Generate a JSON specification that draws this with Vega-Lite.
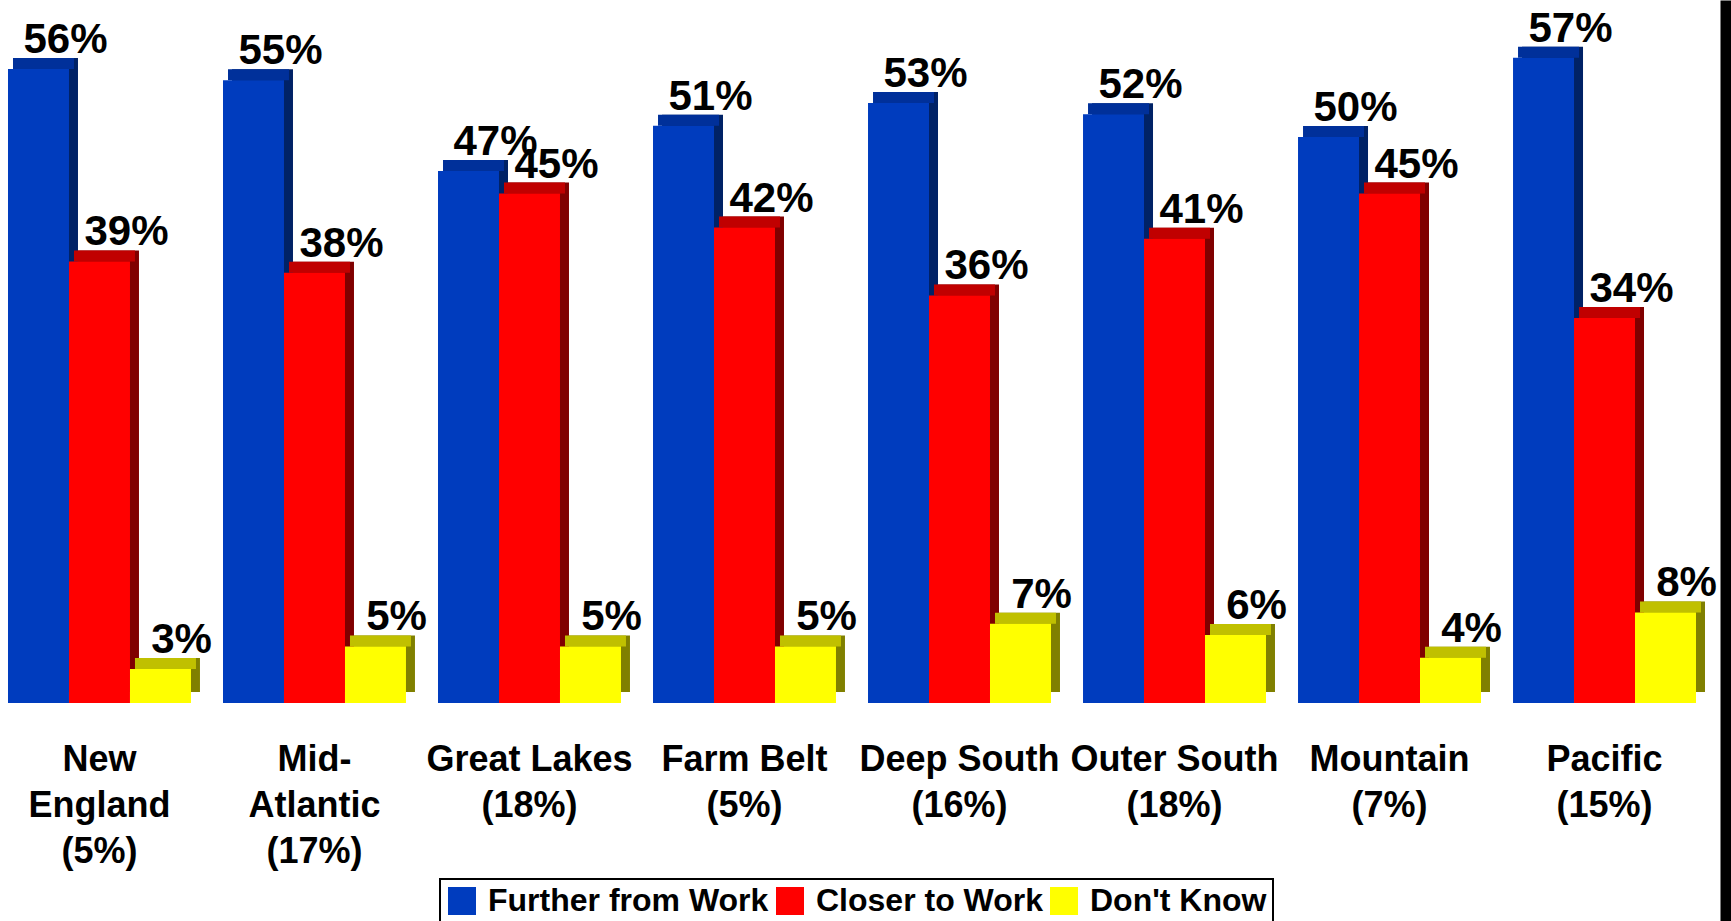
{
  "$schema": "https://vega.github.io/schema/vega-lite/v6.json",
  "width": 1731,
  "height": 921,
  "autosize": {"type": "none"},
  "padding": 0,
  "background": "white",
  "config": {"view": {"stroke": null}, "font": "Liberation Sans", "legend": {"strokeWidth": 2}},
  "data": {
    "values": [
      {"region": "New|England|(5%)", "series": "Further from Work", "value": 0.56},
      {"region": "New|England|(5%)", "series": "Closer to Work", "value": 0.39},
      {"region": "New|England|(5%)", "series": "Don't Know", "value": 0.03},
      {"region": "Mid-|Atlantic|(17%)", "series": "Further from Work", "value": 0.55},
      {"region": "Mid-|Atlantic|(17%)", "series": "Closer to Work", "value": 0.38},
      {"region": "Mid-|Atlantic|(17%)", "series": "Don't Know", "value": 0.05},
      {"region": "Great Lakes|(18%)", "series": "Further from Work", "value": 0.47},
      {"region": "Great Lakes|(18%)", "series": "Closer to Work", "value": 0.45},
      {"region": "Great Lakes|(18%)", "series": "Don't Know", "value": 0.05},
      {"region": "Farm Belt|(5%)", "series": "Further from Work", "value": 0.51},
      {"region": "Farm Belt|(5%)", "series": "Closer to Work", "value": 0.42},
      {"region": "Farm Belt|(5%)", "series": "Don't Know", "value": 0.05},
      {"region": "Deep South|(16%)", "series": "Further from Work", "value": 0.53},
      {"region": "Deep South|(16%)", "series": "Closer to Work", "value": 0.36},
      {"region": "Deep South|(16%)", "series": "Don't Know", "value": 0.07},
      {"region": "Outer South|(18%)", "series": "Further from Work", "value": 0.52},
      {"region": "Outer South|(18%)", "series": "Closer to Work", "value": 0.41},
      {"region": "Outer South|(18%)", "series": "Don't Know", "value": 0.06},
      {"region": "Mountain|(7%)", "series": "Further from Work", "value": 0.50},
      {"region": "Mountain|(7%)", "series": "Closer to Work", "value": 0.45},
      {"region": "Mountain|(7%)", "series": "Don't Know", "value": 0.04},
      {"region": "Pacific|(15%)", "series": "Further from Work", "value": 0.57},
      {"region": "Pacific|(15%)", "series": "Closer to Work", "value": 0.34},
      {"region": "Pacific|(15%)", "series": "Don't Know", "value": 0.08}
    ]
  },
  "encoding": {
    "xOffset": {
      "field": "series",
      "type": "nominal",
      "sort": ["Further from Work", "Closer to Work", "Don't Know"],
      "scale": {"paddingInner": 0, "paddingOuter": 0}
    },
    "y": {
      "field": "value",
      "type": "quantitative",
      "scale": {"domain": [-0.1926, 0.621], "nice": false, "zero": true},
      "axis": {
        "orient": "right",
        "offset": -5.5,
        "domain": true,
        "domainColor": "black",
        "domainWidth": 11,
        "ticks": false,
        "labels": false,
        "grid": false,
        "title": null
      }
    }
  },
  "layer": [
    {
      "mark": {"type": "bar", "yOffset": -11, "y2Offset": -11},
      "encoding": {
        "x": {"field": "region", "type": "nominal", "sort": null, "title": null, "axis": null,
              "scale": {"paddingInner": 0.149, "paddingOuter": 0.1, "align": 0.3953}},
        "color": {
          "field": "series",
          "type": "nominal",
          "scale": {"domain": ["Further from Work", "Closer to Work", "Don't Know"], "range": ["#002266", "#800000", "#808000"]},
          "legend": null
        }
      }
    },
    {
      "mark": {"type": "bar", "yOffset": -11},
      "encoding": {
        "x": {"field": "region", "type": "nominal", "sort": null, "title": null, "axis": null,
              "scale": {"paddingInner": 0.149, "paddingOuter": 0.1, "align": 0.3023}},
        "y2": {"field": "value"},
        "color": {
          "field": "series",
          "type": "nominal",
          "scale": {"domain": ["Further from Work", "Closer to Work", "Don't Know"], "range": ["#00309a", "#c00000", "#c0c000"]},
          "legend": null
        }
      }
    },
    {
      "mark": {"type": "bar"},
      "encoding": {
        "x": {
          "field": "region",
          "type": "nominal",
          "sort": null,
          "title": null,
          "scale": {"paddingInner": 0.149, "paddingOuter": 0.1, "align": 0.186},
          "axis": {
            "orient": "bottom",
            "offset": -218,
            "domain": false,
            "ticks": false,
            "labelAngle": 0,
            "labelExpr": "split(datum.value, '|')",
            "labelFont": "Liberation Sans",
            "labelFontSize": 36,
            "labelFontWeight": "bold",
            "labelColor": "black",
            "labelLineHeight": 46,
            "labelPadding": 39,
            "labelLimit": 400,
            "labelOverlap": false
          }
        },
        "color": {
          "field": "series",
          "type": "nominal",
          "scale": {"domain": ["Further from Work", "Closer to Work", "Don't Know"], "range": ["#003cbe", "#ff0000", "#ffff00"]},
          "legend": {
            "title": null,
            "orient": "none",
            "legendX": 440,
            "legendY": 879,
            "direction": "horizontal",
            "strokeColor": "black",
            "fillColor": "white",
            "padding": 6,
            "symbolType": "square",
            "symbolSize": 784,
            "symbolStrokeWidth": 0,
            "symbolOpacity": 1,
            "labelFont": "Liberation Sans",
            "labelFontSize": 32,
            "labelFontWeight": "bold",
            "labelColor": "black",
            "labelOffset": 10,
            "labelLimit": 400,
            "columnPadding": 5
          }
        }
      }
    },
    {
      "transform": [{"filter": {"not": {"field": "series", "equal": "Don't Know"}}}],
      "mark": {"type": "text", "font": "Liberation Sans", "fontSize": 42, "fontWeight": "bold", "color": "black", "align": "center", "baseline": "alphabetic", "dx": 27, "dy": -16},
      "encoding": {
        "x": {"field": "region", "type": "nominal", "sort": null, "title": null, "axis": null,
              "scale": {"paddingInner": 0.149, "paddingOuter": 0.1, "align": 0.186}},
        "text": {"field": "value", "type": "quantitative", "format": ".0%"}
      }
    },
    {
      "transform": [{"filter": {"field": "series", "equal": "Don't Know"}}],
      "mark": {"type": "text", "font": "Liberation Sans", "fontSize": 42, "fontWeight": "bold", "color": "black", "align": "center", "baseline": "alphabetic", "dx": 21, "dy": -16},
      "encoding": {
        "x": {"field": "region", "type": "nominal", "sort": null, "title": null, "axis": null,
              "scale": {"paddingInner": 0.149, "paddingOuter": 0.1, "align": 0.186}},
        "text": {"field": "value", "type": "quantitative", "format": ".0%"}
      }
    }
  ],
  "resolve": {"scale": {"color": "independent", "x": "independent"}, "axis": {"x": "independent"}}
}
